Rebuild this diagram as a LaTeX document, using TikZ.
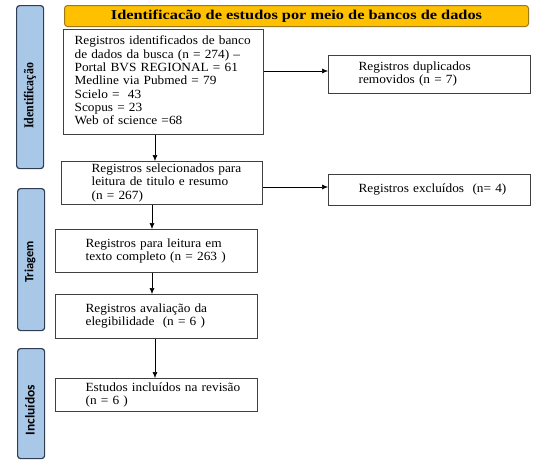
\documentclass[tikz,border=0pt]{standalone}
\usepackage{fontspec}
\setmainfont[FakeStretch=1.066]{Liberation Serif}
\newfontfamily\titlefont[FakeStretch=1.21]{Liberation Serif}
\newfontfamily\sideserif[FakeStretch=0.88]{Liberation Serif}
\newfontfamily\sidesans{Carlito}
\usetikzlibrary{arrows.meta,calc}
\definecolor{sidefill}{HTML}{A9C8E8}
\definecolor{sideedge}{HTML}{2F3E55}
\definecolor{titlefill}{HTML}{FFC000}
\definecolor{titleedge}{HTML}{9C7A1A}
\definecolor{boxedge}{HTML}{404040}
\begin{document}
\begin{tikzpicture}[x=1pt,y=-1pt,
  sidebar/.style={draw=sideedge,line width=1.2pt,fill=sidefill,rounded corners=3pt,anchor=north west,inner sep=0pt,minimum width=27pt},
  sidelabel/.style={rotate=90,inner sep=0pt},
  flowbox/.style={draw=boxedge,line width=1.2pt,anchor=north west,inner xsep=0pt,inner ysep=0pt,align=left,font=\fontsize{12.5}{13.3}\selectfont},
  arr/.style={-{Latex[length=6pt,width=5pt]},line width=0.6pt,black},
]
\useasboundingbox (0,0) rectangle (554,469);
% side bars
\node[sidebar,minimum height=163pt] (sb1) at (16,5) {};
\node[sidebar,minimum height=142pt] (sb2) at (17,188) {};
\node[sidebar,minimum height=110pt] (sb3) at (17,348) {};
\node[sidelabel,font=\sideserif\bfseries\fontsize{13.5}{10}\selectfont] (l1) at (30,96) {Identificação};
\node[sidelabel,font=\sidesans\bfseries\fontsize{12.5}{10}\selectfont] (l2) at (30,262) {Triagem};
\node[sidelabel,font=\sidesans\bfseries\fontsize{13.5}{10}\selectfont] (l3) at (30,410) {Incluídos};
% title
\node[draw=titleedge,line width=1pt,fill=titlefill,rounded corners=3pt,anchor=north west,minimum width=464pt,minimum height=21pt,inner sep=0pt,font=\titlefont\bfseries\fontsize{13.5}{14}\selectfont] (title) at (64,5) {Identificacão de estudos por meio de bancos de dados};
% boxes
\node[flowbox,text width=200pt,minimum height=105pt] (b1) at (63,29)
  {\hspace*{11pt}\begin{tabular}{@{}l@{}}Registros identificados de banco\\de dados da busca (n = 274) –\\Portal BVS REGIONAL = 61\\Medline via Pubmed = 79\\Scielo =\ \ 43\\Scopus = 23\\Web of science =68\end{tabular}};
\node[flowbox,text width=202pt,minimum height=38pt] (dup) at (328,55)
  {\hspace*{30pt}\begin{tabular}{@{}l@{}}Registros duplicados\\removidos (n = 7)\end{tabular}};
\node[flowbox,text width=201pt,minimum height=43pt] (b2) at (61,161)
  {\hspace*{30pt}\begin{tabular}{@{}l@{}}Registros selecionados para\\leitura de titulo e resumo\\(n = 267)\end{tabular}};
\node[flowbox,text width=202pt,minimum height=31pt] (exc) at (328,174)
  {\hspace*{30pt}\raisebox{3pt}{Registros excluídos\ \ (n= 4)}};
\node[flowbox,text width=202pt,minimum height=43pt] (b3) at (55,229)
  {\hspace*{30pt}\raisebox{5pt}{\begin{tabular}{@{}l@{}}Registros para leitura em\\texto completo (n = 263 )\end{tabular}}};
\node[flowbox,text width=202pt,minimum height=44pt] (b4) at (55,294)
  {\hspace*{30pt}\raisebox{4pt}{\begin{tabular}{@{}l@{}}Registros avaliação da\\elegibilidade\ \ (n = 6 )\end{tabular}}};
\node[flowbox,text width=202pt,minimum height=33pt] (b5) at (55,378)
  {\hspace*{30pt}\begin{tabular}{@{}l@{}}Estudos incluídos na revisão\\(n = 6 )\end{tabular}};
% connectors
\coordinate (xa) at (155,0);
\coordinate (xb) at (152,0);
\draw[arr] (b1.south -| xa) -- (b2.north -| xa);
\draw[arr] (b2.south -| xb) -- (b3.north -| xb);
\draw[arr] (b3.south -| xb) -- (b4.north -| xb);
\draw[arr] (b4.south -| xa) -- (b5.north -| xa);
\coordinate (ya) at (0,71);
\coordinate (yb) at (0,187);
\draw[arr] (b1.east |- ya) -- (dup.west |- ya);
\draw[arr] (b2.east |- yb) -- (exc.west |- yb);
\end{tikzpicture}
\end{document}
